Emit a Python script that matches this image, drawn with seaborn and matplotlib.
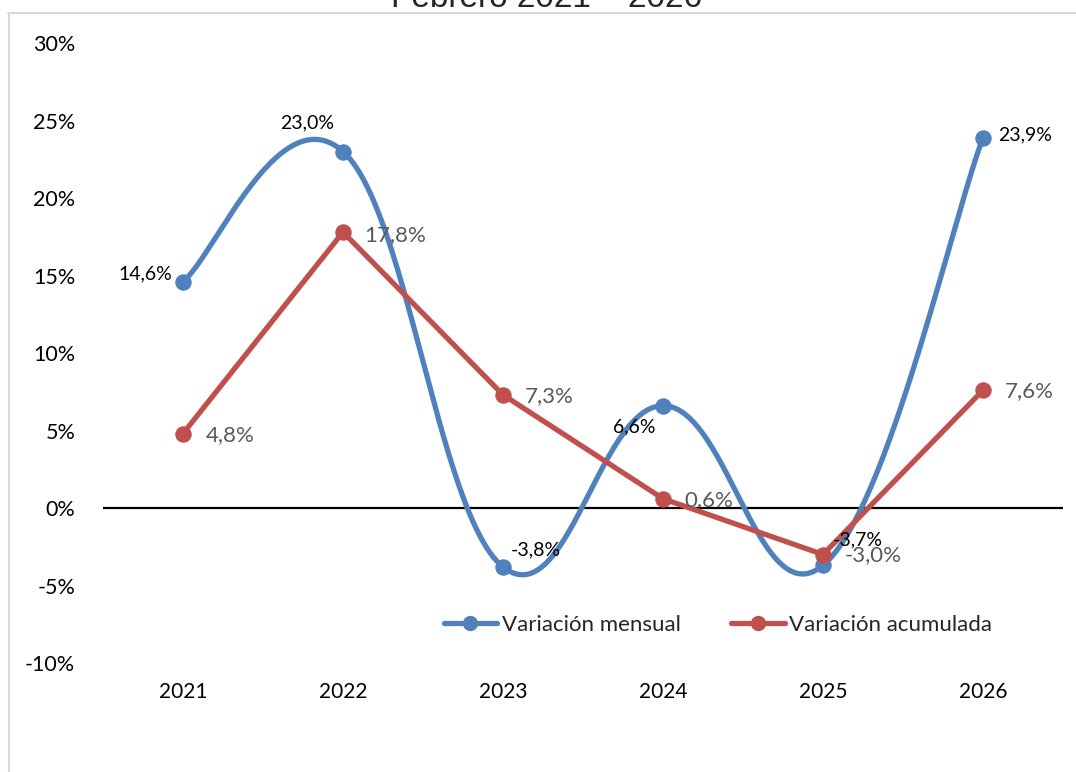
import numpy as np
import pandas as pd
import matplotlib.pyplot as plt
import seaborn as sns
from matplotlib.lines import Line2D

# Data
years = ["2021", "2022", "2023", "2024", "2025", "2026"]
mensual = [14.6, 23.0, -3.8, 6.6, -3.7, 23.9]
acumulada = [4.8, 17.8, 7.3, 0.6, -3.0, 7.6]

blue = "#4F81BD"
red = "#C0504D"

sns.set_theme(style="white")
plt.rcParams["font.family"] = ["Lato", "DejaVu Sans"]

fig = plt.figure(figsize=(10.76, 7.72), dpi=100)
ax = fig.add_axes([103 / 1076, 1 - 663 / 772, 960 / 1076, 620 / 772])

x = np.arange(len(years))


# Excel-like smoothed line (cubic bezier through the points)
def smooth(xs, ys, k=5.0, n=60):
    pts = np.column_stack([xs, ys]).astype(float)
    out = []
    for i in range(len(pts) - 1):
        p0 = pts[i - 1] if i > 0 else pts[i]
        p1, p2 = pts[i], pts[i + 1]
        p3 = pts[i + 2] if i + 2 < len(pts) else pts[i + 1]
        c1 = p1 + (p2 - p0) / k
        c2 = p2 - (p3 - p1) / k
        t = np.linspace(0, 1, n)[:, None]
        seg = ((1 - t) ** 3) * p1 + 3 * ((1 - t) ** 2) * t * c1 + 3 * (1 - t) * t ** 2 * c2 + t ** 3 * p2
        out.append(seg if i == 0 else seg[1:])
    return np.vstack(out)


curve = smooth(x, mensual)
df_curve = pd.DataFrame({"x": curve[:, 0], "y": curve[:, 1]})
df_acum = pd.DataFrame({"x": x, "y": acumulada})
df_mens = pd.DataFrame({"x": x, "y": mensual})

ax.axhline(0, color="black", lw=1.6, zorder=1)

sns.lineplot(data=df_curve, x="x", y="y", ax=ax, color=blue, lw=3.8, sort=False, zorder=3)
sns.scatterplot(data=df_mens, x="x", y="y", ax=ax, color=blue, s=120, edgecolor=blue, zorder=4)
sns.lineplot(data=df_acum, x="x", y="y", ax=ax, color=red, lw=3.8, zorder=5)
sns.scatterplot(data=df_acum, x="x", y="y", ax=ax, color=red, s=120, edgecolor=red, zorder=6)

# Data labels
fmt = lambda v: f"{v:.1f}%".replace(".", ",")
blue_off = [(-38, 8), (-36, 29), (33, 17), (-29, -21), (35, 25), (42, 3)]
for xi, v, (dx, dy) in zip(x, mensual, blue_off):
    ax.annotate(fmt(v), (xi, v), xytext=(dx, dy), textcoords="offset pixels",
                ha="center", va="center", fontsize=14, color="black", zorder=7)
red_off = [(47, -1), (52, -3), (46, -1), (46, -1), (50, -1), (46, -1)]
for xi, v, (dx, dy) in zip(x, acumulada, red_off):
    ax.annotate(fmt(v), (xi, v), xytext=(dx, dy), textcoords="offset pixels",
                ha="center", va="center", fontsize=16, color="#595959", zorder=7)

ax.set_xlim(-0.5, 5.5)
ax.set_ylim(-10, 30)
ax.set_xticks(x)
ax.set_xticklabels(years)
ax.set_yticks(range(-10, 31, 5))
ax.set_yticklabels([f"{v}%" for v in range(-10, 31, 5)])
ax.tick_params(axis="x", length=0, pad=14, labelsize=15, labelcolor="black")
ax.tick_params(axis="y", length=0, pad=20, labelsize=15.5, labelcolor="black")
ax.set_xlabel("")
ax.set_ylabel("")
for s in ax.spines.values():
    s.set_visible(False)

handles = [
    Line2D([0], [0], color=blue, lw=3.8, marker="o", markersize=10, label="Variación mensual"),
    Line2D([0], [0], color=red, lw=3.8, marker="o", markersize=10, label="Variación acumulada"),
]
ax.legend(handles=handles, loc="center", bbox_to_anchor=(718 / 1076, 1 - 625 / 772),
          bbox_transform=fig.transFigure, ncol=2, frameon=False, fontsize=16,
          handlelength=2.4, handletextpad=0.2, columnspacing=2.3)

# Cropped title and chart border
fig.text(547 / 1076, 1 - 7 / 772, "Febrero 2021 – 2026", ha="center", va="baseline",
         fontsize=24, family=["Liberation Sans", "DejaVu Sans"])
fig.add_artist(Line2D([8 / 1076, 1], [1 - 12.5 / 772, 1 - 12.5 / 772], color="#D9D9D9", lw=1.5))
fig.add_artist(Line2D([8.5 / 1076, 8.5 / 1076], [0, 1 - 12.5 / 772], color="#D9D9D9", lw=1.5))

fig.savefig("out.png", dpi=100)
